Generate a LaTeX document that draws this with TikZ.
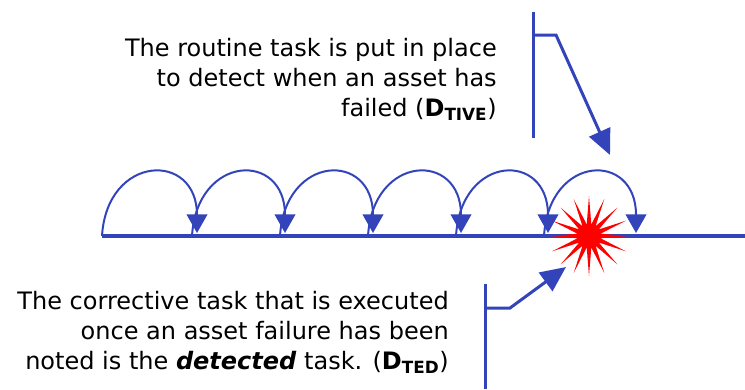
\documentclass[tikz,border=0pt]{standalone}
\usepackage{fontspec}
\setmainfont{DejaVu Sans}
\usetikzlibrary{arrows.meta,shapes.geometric}
\definecolor{tblue}{RGB}{51,68,187}
\begin{document}
\begin{tikzpicture}[x=0.75pt,y=-0.75pt,
  timeline/.style={line width=3pt,tblue},
  jump/.style={tblue,line width=1.5pt,-{Triangle[length=14pt,width=15.5pt]}},
  stem/.style={tblue,line width=2.25pt},
  callout/.style={tblue,line width=2.25pt,-{Triangle[length=19pt,width=17pt]}},
  lbl/.style={align=right,inner sep=0pt,font=\fontsize{18}{22.5}\selectfont}]
\useasboundingbox (0,0) rectangle (745,389);
% time line
\coordinate (L0) at (102,236);
\coordinate (L1) at (745,236);
\draw[timeline] (L0) -- (L1);
% routine task jumps
\foreach \i/\s/\t in {1/102/197,2/192/285,3/280/373,4/368/461,5/456/548,6/544/636}{
  \coordinate (s\i) at (\s,236);
  \coordinate (t\i) at (\t,233);
  \draw[jump] (s\i) .. controls +(5,-82) and +(0,-82) .. (t\i);
}
% failure
\node[star,star points=16,star point ratio=3.4,minimum size=60pt,inner sep=0pt,fill=red,draw=none] (fail) at (589,236) {};
% callout top
\coordinate (c1a) at (533,12);
\coordinate (c1b) at (533,138);
\coordinate (c1k) at (533,35);
\coordinate (c1e) at (556,35);
\coordinate (c1t) at (610,155);
\draw[stem] (c1a) -- (c1b);
\draw[callout] (c1k) -- (c1e) -- (c1t);
% callout bottom
\coordinate (c2a) at (485,284);
\coordinate (c2b) at (485,389);
\coordinate (c2k) at (485,308);
\coordinate (c2e) at (510,308);
\coordinate (c2t) at (566,267);
\draw[stem] (c2a) -- (c2b);
\draw[callout] (c2k) -- (c2e) -- (c2t);
% labels
\node[lbl,anchor=north east] (toptext) at (497,38) {The routine task is put in place\\to detect when an asset has\\failed (\textbf{D}\textsubscript{\textbf{TIVE}})};
\node[lbl,anchor=north east] (bottext) at (449,291) {The corrective task that is executed\\once an asset failure has been\\noted is the \textbf{\textit{detected}} task. (\textbf{D}\textsubscript{\textbf{TED}})};
\end{tikzpicture}
\end{document}
